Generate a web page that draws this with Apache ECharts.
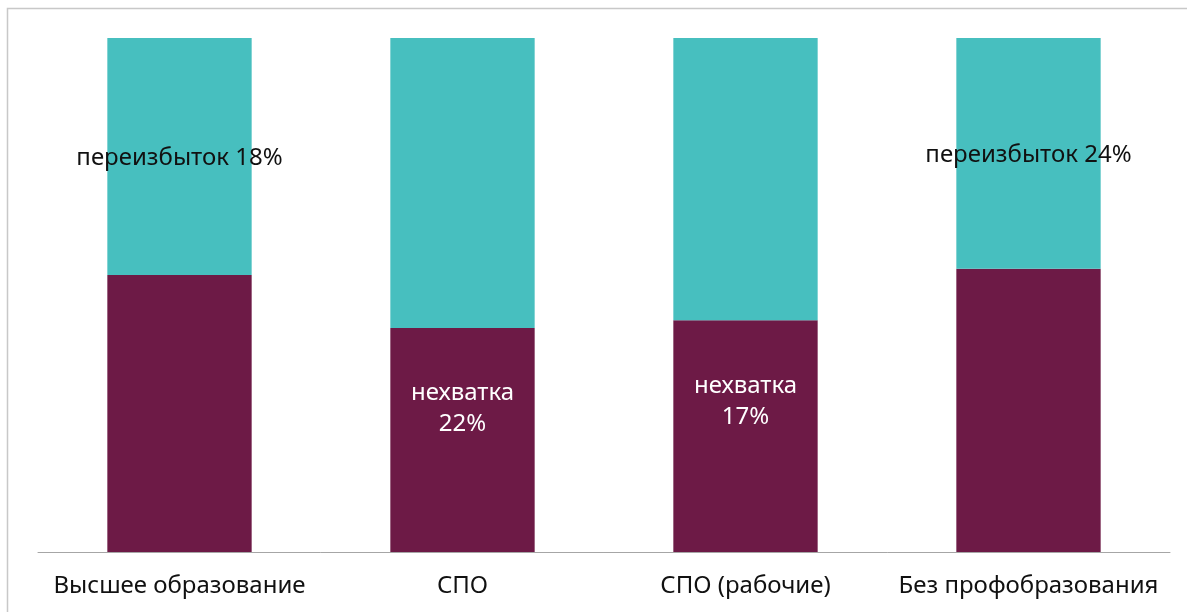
<!DOCTYPE html>
<html>
<head>
<meta charset="utf-8">
<script src="https://cdn.jsdelivr.net/npm/echarts@6/dist/echarts.min.js"></script>
<style>
  html, body { margin: 0; padding: 0; background: #fff; }
  #chart { width: 1187px; height: 612px; }
</style>
</head>
<body>
<div id="chart"></div>
<script>
// категории и доли (в %)
const categories = ['Высшее образование', 'СПО', 'СПО (рабочие)', 'Без профобразования'];
const bottomShare = [53.9, 43.6, 45.1, 55.1];
const topShare = [46.1, 56.4, 54.9, 44.9];
const topLabels = ['переизбыток 18%', '', '', 'переизбыток 24%'];
const bottomLabels = ['', 'нехватка\n22%', 'нехватка\n17%', ''];

const maroon = '#6d1a46';
const teal = '#47bfbf';
const font = 'Noto Sans';

const chart = echarts.init(document.getElementById('chart'));

chart.setOption({
  animation: false,
  graphic: [
    {
      type: 'rect',
      shape: { x: 7.5, y: 8.5, width: 1300, height: 700 },
      style: { fill: 'none', stroke: '#c8c8c8', lineWidth: 1.5 },
      silent: true
    }
  ],
  grid: { left: 38, right: 17, top: 38, bottom: 60 },
  xAxis: {
    type: 'category',
    data: categories,
    axisTick: { show: false },
    axisLine: { lineStyle: { color: '#a6a6a6', width: 1 } },
    axisLabel: {
      interval: 0,
      hideOverlap: false,
      color: '#111',
      fontSize: 24,
      fontFamily: font,
      margin: 22
    }
  },
  yAxis: {
    type: 'value',
    min: 0,
    max: 100,
    show: false,
    splitLine: { show: false }
  },
  series: [
    {
      name: 'низ',
      type: 'bar',
      stack: 'all',
      barWidth: '51%',
      itemStyle: { color: maroon },
      data: bottomShare.map((v, i) => ({
        value: v,
        label: {
          show: bottomLabels[i] !== '',
          position: 'insideTop',
          distance: 50,
          formatter: bottomLabels[i],
          color: '#fff',
          fontSize: 24,
          fontFamily: font,
          lineHeight: 31
        }
      }))
    },
    {
      name: 'верх',
      type: 'bar',
      stack: 'all',
      itemStyle: { color: teal },
      data: topShare.map((v, i) => ({
        value: v,
        label: {
          show: topLabels[i] !== '',
          position: 'inside',
          offset: [0, 2],
          formatter: topLabels[i],
          color: '#111',
          fontSize: 24,
          fontFamily: font
        }
      }))
    }
  ]
});
</script>
</body>
</html>
